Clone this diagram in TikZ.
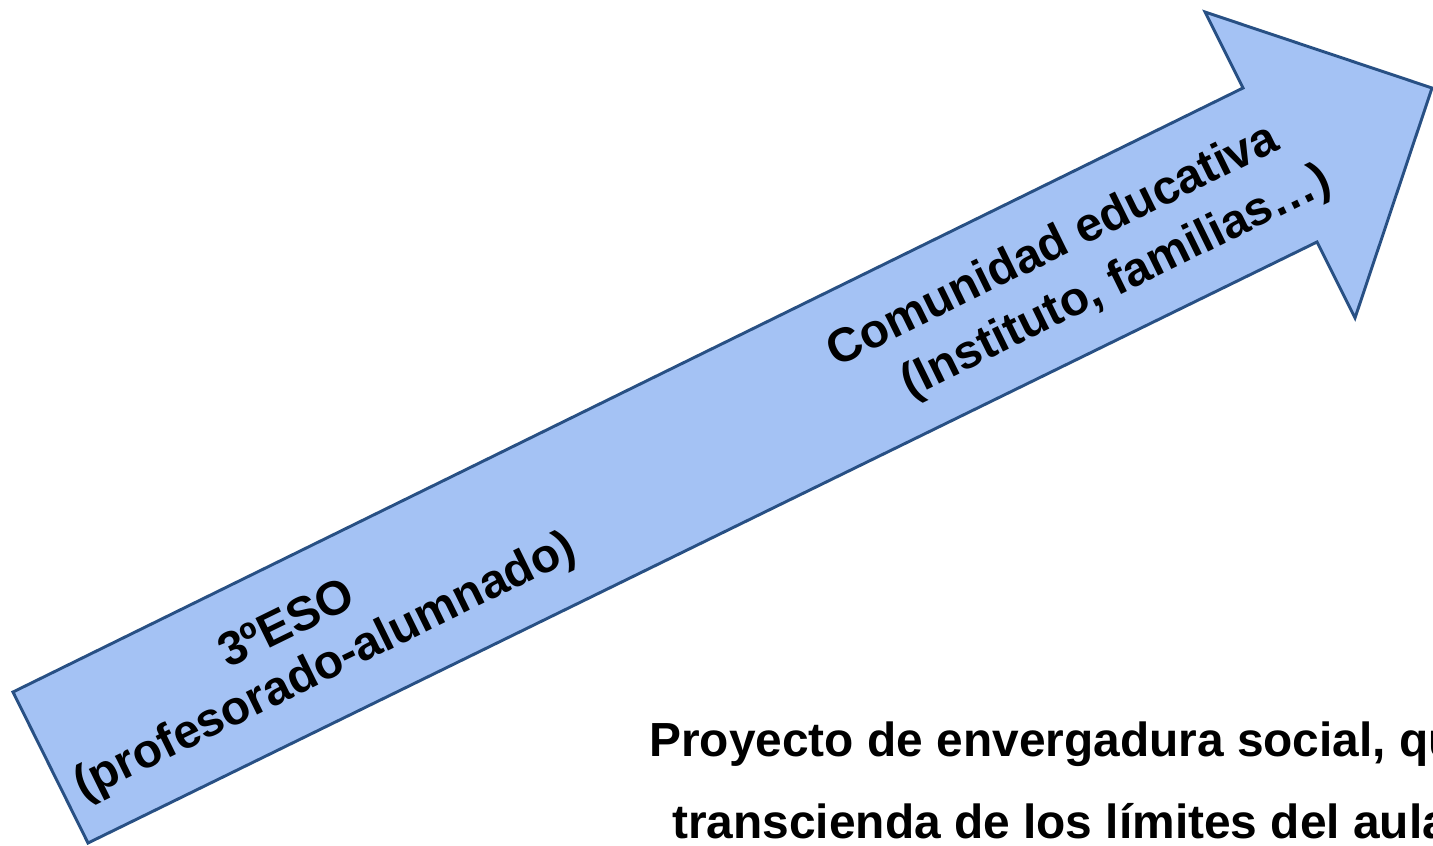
\documentclass[tikz,border=0pt]{standalone}
\usepackage{fontspec}
\setmainfont{Liberation Sans}
\definecolor{arrowfill}{RGB}{164,194,244}
\definecolor{arrowline}{RGB}{40,80,132}
\begin{document}
\begin{tikzpicture}[x=0.75pt,y=-0.75pt,
  lbl/.style={inner sep=0pt,font=\bfseries\fontsize{35.8pt}{41.2pt}\selectfont,text=black},
  rlbl/.style={lbl,rotate=26.15,anchor=base},
  bottomtext/.style={lbl,font=\bfseries\fontsize{35.9pt}{41.3pt}\selectfont,anchor=base west},
  bigarrow/.style={fill=arrowfill,draw=arrowline,line width=2.2pt,line join=miter}]
\clip (0,0) rectangle (1433,845);
\fill[white] (0,0) rectangle (1433,845);
\draw[bigarrow] (13,692) -- (1243,88) -- (1205,12) -- (1432,88) -- (1355,318) -- (1317,242) -- (88,843) -- cycle;
\node[rlbl] (eso) at (293,637) {3ºESO};
\node[rlbl] (prof) at (331,679) {(profesorado-alumnado)};
\node[rlbl] (com) at (1059,258) {Comunidad educativa};
\node[rlbl] (inst) at (1122,294) {(Instituto, familias…)};
\node[bottomtext] (p1) at (649,756) {Proyecto de envergadura social, que};
\node[bottomtext] (p2) at (672,838) {transcienda de los límites del aula};
\end{tikzpicture}
\end{document}
